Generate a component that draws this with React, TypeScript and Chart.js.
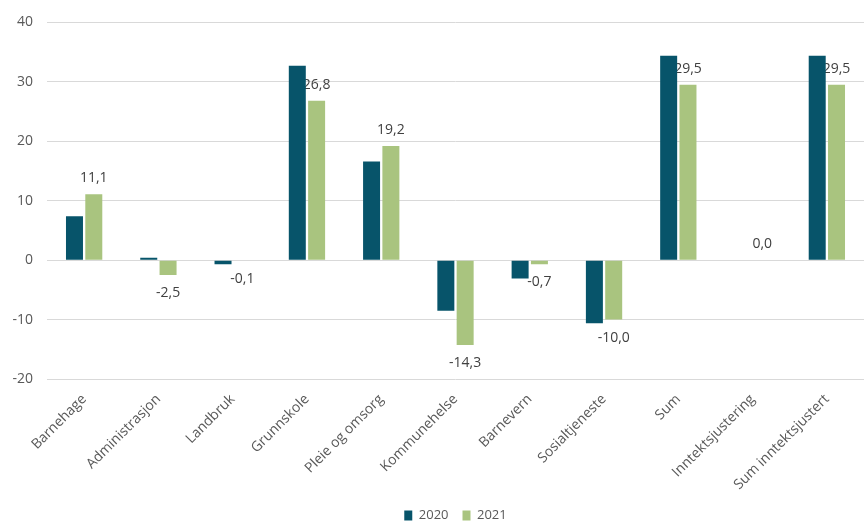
import React, { useEffect, useRef } from "react";
import { Chart, registerables } from "chart.js";

Chart.register(...registerables);

const categories = [
  "Barnehage",
  "Administrasjon",
  "Landbruk",
  "Grunnskole",
  "Pleie og omsorg",
  "Kommunehelse",
  "Barnevern",
  "Sosialtjeneste",
  "Sum",
  "Inntektsjustering",
  "Sum inntektsjustert",
];
const values2020 = [7.4, 0.4, -0.7, 32.7, 16.6, -8.5, -3.1, -10.6, 34.4, 0, 34.4];
const values2021 = [11.1, -2.5, -0.1, 26.8, 19.2, -14.3, -0.7, -10.0, 29.5, 0.0, 29.5];
const seriesNames = ["2020", "2021"];
const yMin = -20;
const yMax = 40;
const yStep = 10;

const FONT = "'Open Sans', 'Liberation Sans', sans-serif";

const dataLabelPlugin = {
  id: "dataLabels2021",
  beforeDatasetsDraw(chart: any) {
    const ctx = chart.ctx;
    const meta = chart.getDatasetMeta(1);
    const data = chart.data.datasets[1].data as number[];
    ctx.save();
    ctx.font = `14px ${FONT}`;
    ctx.fillStyle = "#404040";
    ctx.textAlign = "center";
    ctx.textBaseline = "middle";
    meta.data.forEach((el: any, i: number) => {
      const v = data[i];
      const txt = v.toFixed(1).replace(".", ",");
      const y = v >= 0 ? el.y - 16 : el.y + 18;
      ctx.fillText(txt, el.x, y);
    });
    ctx.restore();
  },
};

export default function App() {
  const ref = useRef<HTMLCanvasElement | null>(null);
  useEffect(() => {
    if (!ref.current) return;
    const chart = new Chart(ref.current, {
      type: "bar",
      data: {
        labels: categories,
        datasets: [
          {
            label: seriesNames[0],
            data: values2020,
            backgroundColor: "#07546a",
            categoryPercentage: 0.52,
            barPercentage: 0.88,
          },
          {
            label: seriesNames[1],
            data: values2021,
            backgroundColor: "#a9c47f",
            categoryPercentage: 0.52,
            barPercentage: 0.88,
          },
        ],
      },
      options: {
        responsive: false,
        animation: false,
        layout: { padding: { top: 20, left: 0, right: 0, bottom: 0 } },
        plugins: {
          legend: {
            position: "bottom",
            fullSize: false,
            maxHeight: 30,
            labels: {
              boxWidth: 8,
              boxHeight: 10,
              padding: 14,
              color: "#595959",
              font: { family: FONT, size: 13 },
            },
          },
          tooltip: { enabled: false },
        },
        scales: {
          x: {
            grid: { display: false },
            border: { display: false },
            ticks: {
              color: "#595959",
              font: { family: FONT, size: 14 },
              minRotation: 45,
              maxRotation: 45,
              padding: 4,
              autoSkip: false,
            },
            afterFit(scale: any) {
              scale.height = 116;
            },
          },
          y: {
            min: yMin,
            max: yMax,
            grid: { color: "#d9d9d9", drawTicks: false, lineWidth: 1 },
            border: { display: false },
            ticks: {
              stepSize: yStep,
              color: "#595959",
              font: { family: FONT, size: 14 },
              padding: 14,
            },
            afterFit(scale: any) {
              scale.width = 47;
            },
          },
        },
      },
      plugins: [dataLabelPlugin],
    });
    return () => chart.destroy();
  }, []);
  return (
    <div style={{ position: "fixed", left: 0, top: 0, width: 864, height: 525, background: "#fff" }}>
      <canvas ref={ref} width={864} height={525} />
    </div>
  );
}
